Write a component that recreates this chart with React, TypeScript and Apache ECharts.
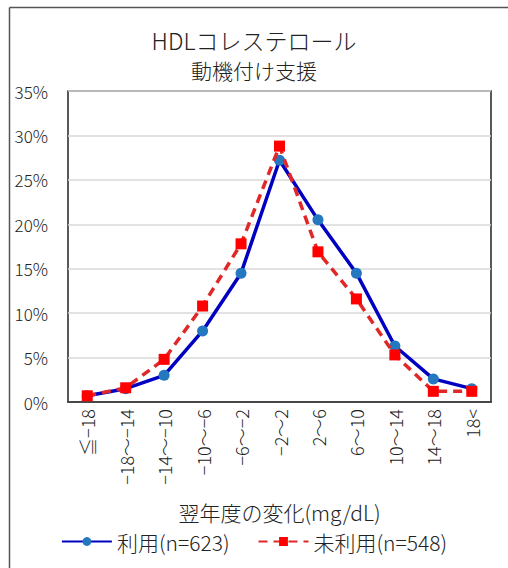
import React, { useEffect, useRef } from "react";
import * as echarts from "echarts";

const categories = ["≦−18", "−18～−14", "−14～−10", "−10～−6", "−6～−2", "−2～2", "2～6", "6～10", "10～14", "14～18", "18<"];
const usedValues = [0.7, 1.5, 3.0, 8.0, 14.5, 27.2, 20.5, 14.5, 6.3, 2.6, 1.5];
const unusedValues = [0.7, 1.6, 4.8, 10.8, 17.8, 28.8, 16.9, 11.6, 5.3, 1.2, 1.2];
const yTicks = [0, 5, 10, 15, 20, 25, 30, 35];

const FONT = "'Noto Sans CJK JP', 'Noto Sans', sans-serif";

export default function App() {
  const ref = useRef<HTMLDivElement>(null);
  useEffect(() => {
    if (!ref.current) return;
    const chart = echarts.init(ref.current, null, { renderer: "svg" });
    chart.setOption({
      animation: false,
      backgroundColor: "#ffffff",
      textStyle: { fontFamily: FONT, color: "#222", fontWeight: 300 },
      title: {
        text: "HDLコレステロール",
        subtext: "動機付け支援",
        left: "center",
        top: 23,
        itemGap: 9,
        textStyle: { fontFamily: FONT, fontSize: 23, fontWeight: 300, color: "#222" },
        subtextStyle: { fontFamily: FONT, fontSize: 21, fontWeight: 300, color: "#222" },
      },
      graphic: [
        { type: "line", shape: { x1: 9.5, y1: 7.5, x2: 508, y2: 7.5 }, style: { stroke: "#555", lineWidth: 1.5 } },
        { type: "line", shape: { x1: 9.5, y1: 7.5, x2: 9.5, y2: 568 }, style: { stroke: "#555", lineWidth: 1.5 } },
      ],
      legend: {
        bottom: 11,
        left: "center",
        itemWidth: 50,
        itemHeight: 11,
        itemGap: 28,
        textStyle: { fontFamily: FONT, fontSize: 21, fontWeight: 300, color: "#222" },
        data: ["利用(n=623)", "未利用(n=548)"],
      },
      grid: {
        left: 68,
        right: 17,
        top: 91,
        bottom: 166,
        show: true,
        borderColor: "#222",
        borderWidth: 1.5,
      },
      xAxis: {
        type: "category",
        data: categories,
        boundaryGap: true,
        name: "翌年度の変化(mg/dL)",
        nameLocation: "middle",
        nameGap: 99,
        nameTextStyle: { fontFamily: FONT, fontSize: 21, fontWeight: 300, color: "#222" },
        axisLine: { show: true, lineStyle: { color: "#222", width: 1.5 } },
        axisTick: { show: false },
        axisLabel: { rotate: 90, margin: 7, fontSize: 18, fontWeight: 300, color: "#222", fontFamily: FONT, interval: 0 },
      },
      yAxis: {
        type: "value",
        min: 0,
        max: 35,
        interval: 5,
        axisLine: { show: false },
        axisTick: { show: false },
        splitLine: { lineStyle: { color: "#d9d9d9", width: 1.5 } },
        axisLabel: {
          margin: 20,
          fontSize: 17,
          fontWeight: 300,
          color: "#222",
          fontFamily: FONT,
          formatter: (v: number) => (yTicks.includes(v) ? `${v}%` : ""),
        },
      },
      series: [
        {
          name: "利用(n=623)",
          type: "line",
          data: usedValues,
          symbol: "circle",
          symbolSize: 11,
          lineStyle: { color: "#0000C0", width: 3.5 },
          itemStyle: { color: "#2378C0" },
          z: 3,
        },
        {
          name: "未利用(n=548)",
          type: "line",
          data: unusedValues,
          symbol: "rect",
          symbolSize: 11,
          lineStyle: { color: "#E02828", width: 3.5, type: [9, 6] },
          itemStyle: { color: "#FF0000" },
          z: 4,
        },
      ],
    });
    return () => chart.dispose();
  }, []);
  return <div ref={ref} style={{ position: "absolute", left: 0, top: 0, width: 508, height: 568 }} />;
}
